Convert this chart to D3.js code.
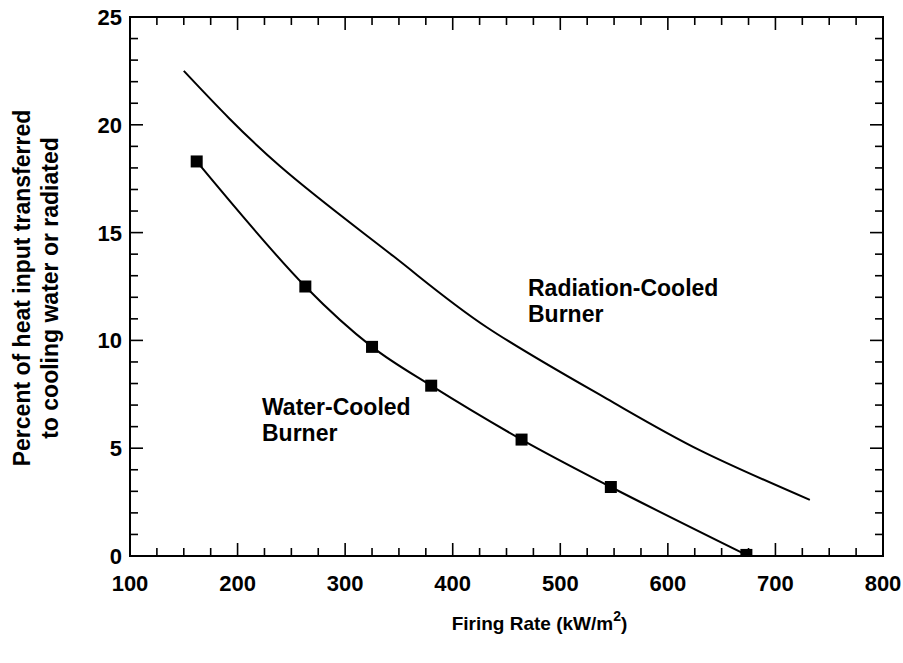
<!DOCTYPE html>
<html>
<head>
<meta charset="utf-8">
<script src="https://cdn.jsdelivr.net/npm/d3@7"></script>
<style>
  body { margin: 0; background: #fff; }
  text { font-family: "Liberation Sans", Arial, sans-serif; font-weight: bold; fill: #000; }
</style>
</head>
<body>
<svg id="chart" width="903" height="663"></svg>
<script>
// firing rate (kW/m2) vs percent of heat input
const waterX = [162, 263, 325, 380, 464, 547, 673];
const waterY = [18.3, 12.5, 9.7, 7.9, 5.4, 3.2, 0.05];

const radX = [150, 239, 345, 432, 543, 630, 732];
const radY = [22.5, 18.1, 13.9, 10.6, 7.3, 4.9, 2.6];

const xTicks = [100, 200, 300, 400, 500, 600, 700, 800];
const yTicks = [0, 5, 10, 15, 20, 25];

const svg = d3.select("#chart");
const pL = 130, pR = 883, pT = 17, pB = 556;

const x = d3.scaleLinear().domain([100, 800]).range([pL, pR]);
const y = d3.scaleLinear().domain([0, 25]).range([pB, pT]);

svg.append("defs").append("clipPath").attr("id", "plot")
  .append("rect").attr("x", pL).attr("y", pT)
  .attr("width", pR - pL).attr("height", pB - pT);

// ticks on all four sides, pointing in
const xMinor = d3.range(100, 801, 25);
const yMinor = d3.range(0, 26, 1);
const ticks = svg.append("g").attr("stroke", "#000").attr("stroke-width", 1.6);
xMinor.forEach(v => {
  const len = v % 100 === 0 ? 13 : 8;
  ticks.append("line").attr("x1", x(v)).attr("x2", x(v)).attr("y1", pB).attr("y2", pB - len);
  ticks.append("line").attr("x1", x(v)).attr("x2", x(v)).attr("y1", pT).attr("y2", pT + len);
});
yMinor.forEach(v => {
  const len = v % 5 === 0 ? 13 : 8;
  ticks.append("line").attr("y1", y(v)).attr("y2", y(v)).attr("x1", pL).attr("x2", pL + len);
  ticks.append("line").attr("y1", y(v)).attr("y2", y(v)).attr("x1", pR).attr("x2", pR - len);
});

svg.append("rect")
  .attr("x", pL).attr("y", pT)
  .attr("width", pR - pL).attr("height", pB - pT)
  .attr("fill", "none").attr("stroke", "#000").attr("stroke-width", 2);

// tick labels
svg.append("g").selectAll("text").data(xTicks).join("text")
  .attr("x", d => x(d)).attr("y", pB + 35)
  .attr("text-anchor", "middle").attr("font-size", 22)
  .text(d => d);

svg.append("g").selectAll("text").data(yTicks).join("text")
  .attr("x", pL - 8).attr("y", d => y(d) + 8)
  .attr("text-anchor", "end").attr("font-size", 22)
  .text(d => d);

// curves
const line = d3.line().x(d => x(d[0])).y(d => y(d[1]));

svg.append("path")
  .datum(radX.map((v, i) => [v, radY[i]]))
  .attr("d", line.curve(d3.curveNatural)).attr("fill", "none").attr("stroke", "#000").attr("stroke-width", 2);

const water = waterX.map((v, i) => [v, waterY[i]]);
svg.append("path")
  .datum(water)
  .attr("d", line.curve(d3.curveCatmullRom)).attr("fill", "none").attr("stroke", "#000").attr("stroke-width", 2);

const sq = 12;
svg.append("g").attr("clip-path", "url(#plot)")
  .selectAll("rect").data(water).join("rect")
  .attr("x", d => x(d[0]) - sq / 2).attr("y", d => y(d[1]) - sq / 2)
  .attr("width", sq).attr("height", sq).attr("fill", "#000");

// annotations
const ann = (tx, ty, lines) => {
  const t = svg.append("text").attr("x", tx).attr("y", ty).attr("font-size", 23);
  lines.forEach((s, i) => t.append("tspan").attr("x", tx).attr("dy", i ? 26 : 0).text(s));
};
ann(528, 296, ["Radiation-Cooled", "Burner"]);
ann(262, 415, ["Water-Cooled", "Burner"]);

// axis titles
const xt = svg.append("text").attr("x", (pL + pR) / 2 + 33).attr("y", 630)
  .attr("text-anchor", "middle").attr("font-size", 19);
xt.append("tspan").text("Firing Rate (kW/m");
xt.append("tspan").attr("dy", -9).attr("font-size", 14).text("2");
xt.append("tspan").attr("dy", 9).text(")");

const yt = svg.append("text").attr("transform", "translate(30,288) rotate(-90)")
  .attr("text-anchor", "middle").attr("font-size", 23);
yt.append("tspan").attr("x", 0).attr("dy", 0).text("Percent of heat input transferred");
yt.append("tspan").attr("x", 0).attr("dy", 28).text("to cooling water or radiated");
</script>
</body>
</html>
